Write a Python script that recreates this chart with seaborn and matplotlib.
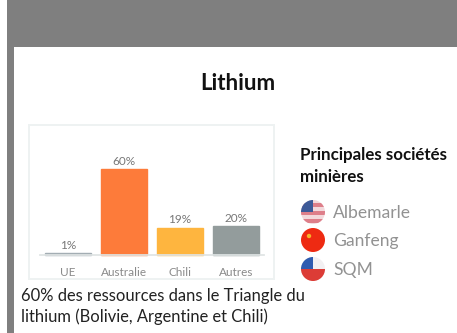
import matplotlib
matplotlib.use("Agg")
import matplotlib.pyplot as plt
from matplotlib.patches import Circle, Rectangle
import seaborn as sns
import pandas as pd

categories = ["UE", "Australie", "Chili", "Autres"]
values = [1, 60, 19, 20]
value_labels = ["1%", "60%", "19%", "20%"]
bar_colors = ["#a3adb3", "#fd7b3a", "#feb53f", "#939c9c"]
companies = ["Albemarle", "Ganfeng", "SQM"]

W, H = 457, 333
sns.set_theme(style="white")
plt.rcParams["font.family"] = ["Lato", "DejaVu Sans"]
fig = plt.figure(figsize=(W / 100, H / 100), dpi=100, facecolor="white")

# page overlay in pixel coordinates
bg = fig.add_axes([0, 0, 1, 1], zorder=0)
bg.set_xlim(0, W); bg.set_ylim(H, 0); bg.axis("off")
bg.add_patch(Rectangle((7, 0), W - 7, 47, color="#7f7f7f", lw=0))
bg.add_patch(Rectangle((7, 0), 7, H, color="#7f7f7f", lw=0))
bg.add_patch(Rectangle((29, 125), 245, 154, fc="white", ec="#eef2f2", lw=1.4))

bg.text(238, 84, "Lithium", ha="center", va="center", fontsize=16, fontweight="bold", color="#111111")
bg.text(300, 155, "Principales sociétés", ha="left", va="center", fontsize=12.2, fontweight="bold", color="#111111")
bg.text(300, 177, "minières", ha="left", va="center", fontsize=12.2, fontweight="bold", color="#111111")
bg.text(21, 296, "60% des ressources dans le Triangle du", ha="left", va="center", fontsize=11.9, color="#222222")
bg.text(21, 317, "lithium (Bolivie, Argentine et Chili)", ha="left", va="center", fontsize=11.9, color="#222222")

# flags
flag_y = [212, 240, 269]
flag_x, r = 313, 12
for name, fy in zip(companies, flag_y):
    bg.text(333, fy + 1, name, ha="left", va="center", fontsize=12.6, color="#929292")

def clipped(patch, circ):
    bg.add_patch(patch)
    patch.set_clip_path(circ)

c0 = Circle((flag_x, flag_y[0]), r, fc="#f3d9dc", ec="none"); bg.add_patch(c0)
for k in range(3):
    clipped(Rectangle((flag_x - r, flag_y[0] - 9 + k * 8), 2 * r, 3.5, color="#de7f8a", lw=0), c0)
clipped(Rectangle((flag_x - r, flag_y[0] - r), r, r, color="#3d5a98", lw=0), c0)

bg.add_patch(Circle((flag_x, flag_y[1]), r, fc="#ee2a12", ec="none"))
bg.add_patch(Circle((flag_x - 4, flag_y[1] - 4), 2.2, fc="#f6b32a", ec="none"))

c2 = Circle((flag_x, flag_y[2]), r, fc="#f2f0f2", ec="none"); bg.add_patch(c2)
clipped(Rectangle((flag_x - r, flag_y[2]), 2 * r, r, color="#dc3c36", lw=0), c2)
clipped(Rectangle((flag_x - r, flag_y[2] - r), r, r, color="#2f5cb0", lw=0), c2)

# bar chart
ax = fig.add_axes([29 / W, 1 - 279 / H, 245 / W, 154 / H], zorder=1)
ax.patch.set_alpha(0)
df = pd.DataFrame({"cat": categories, "val": values})
sns.barplot(data=df, x="cat", y="val", hue="cat", order=categories, hue_order=categories,
            palette=bar_colors, width=0.82, legend=False, ax=ax, saturation=1)
for p, col in zip(ax.patches, bar_colors):
    p.set_edgecolor(col)
    p.set_linewidth(1.0)
ax.set_xlim(-0.696, 3.68)
ax.set_ylim(-17, 90.7)
ax.set_xlabel(""); ax.set_ylabel(""); ax.set_yticks([])
for s in ["top", "left", "right"]:
    ax.spines[s].set_visible(False)
ax.spines["bottom"].set_position(("data", 0))
ax.spines["bottom"].set_bounds(-0.5, 3.5)
ax.spines["bottom"].set_color("#dfe4e4")
ax.tick_params(axis="x", length=0, pad=9, labelsize=8.5, labelcolor="#8a8a8a")
for x, (v, lab) in enumerate(zip(values, value_labels)):
    ax.annotate(lab, (x, v), xytext=(0, 1.5), textcoords="offset points", ha="center", va="bottom",
                fontsize=8.5, color="#777777")

fig.savefig("out.png", dpi=100)
